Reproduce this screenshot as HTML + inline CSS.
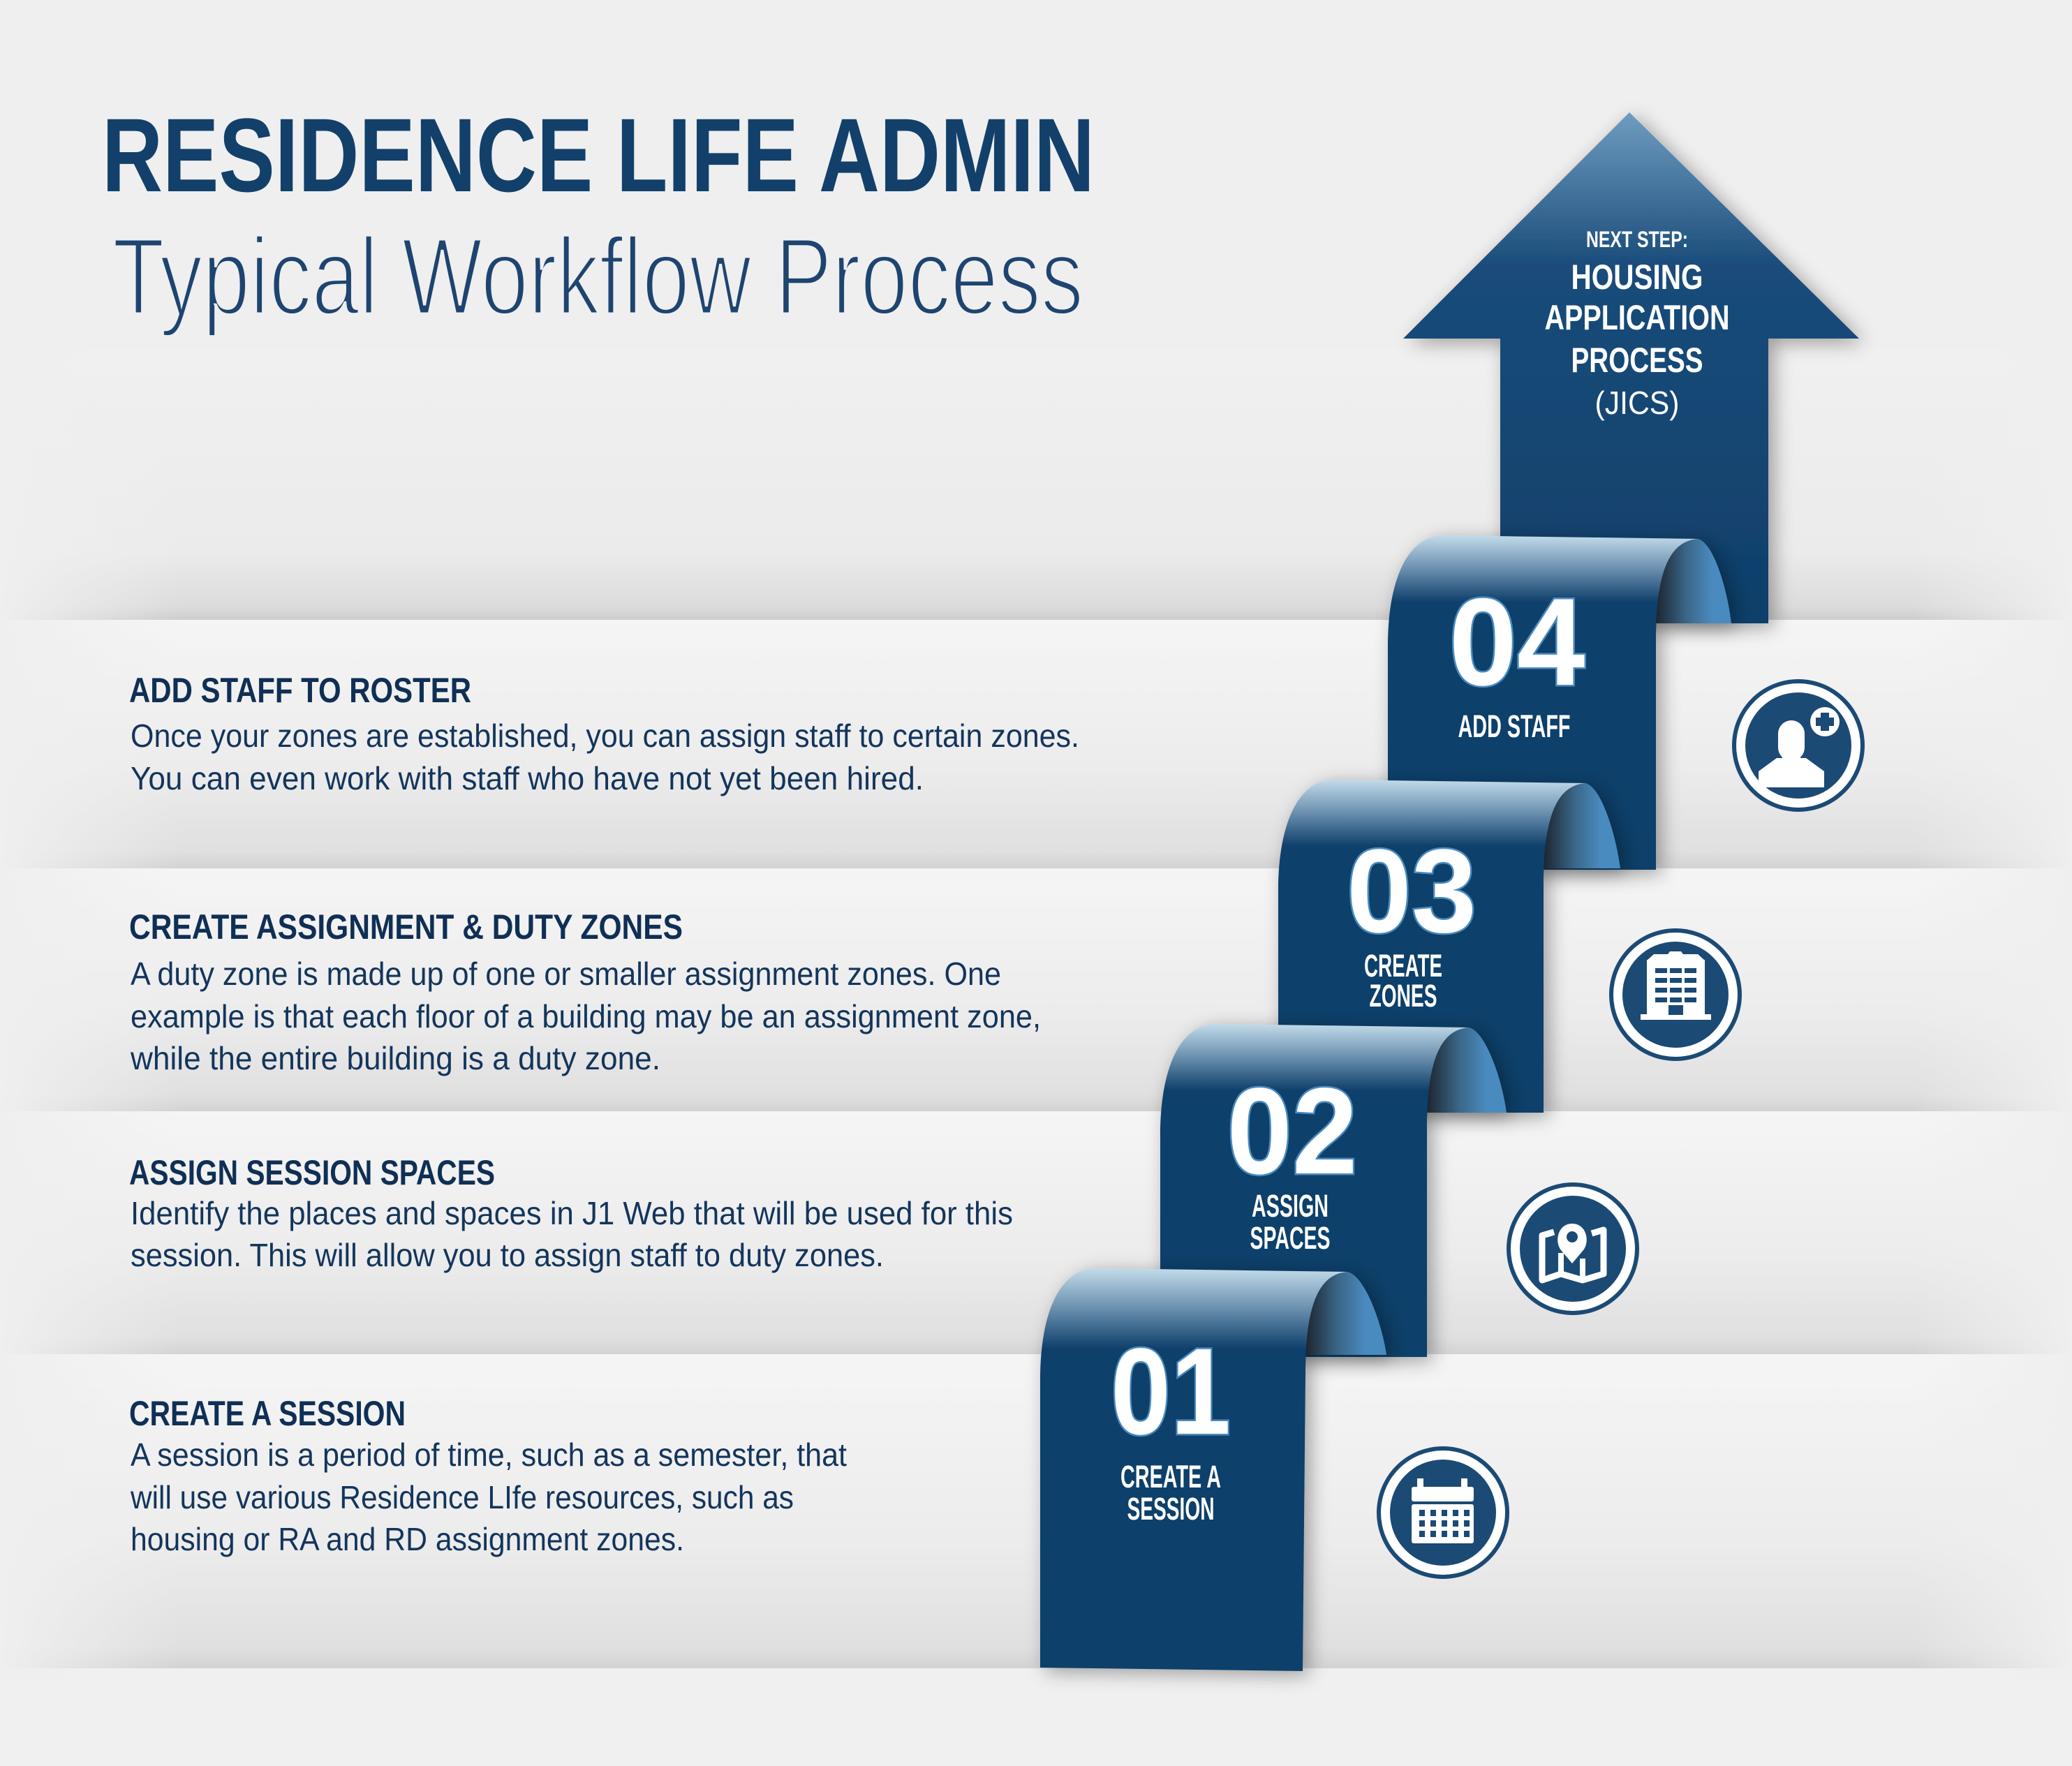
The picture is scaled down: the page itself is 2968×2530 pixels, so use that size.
<!DOCTYPE html>
<html><head><meta charset="utf-8"><style>html,body{margin:0;padding:0;background:#efefef}svg{display:block}</style></head>
<body>
<svg width="2968" height="2530" viewBox="0 0 2968 2530" xmlns="http://www.w3.org/2000/svg" font-family="'Liberation Sans', sans-serif">
<defs>
<linearGradient id="band" x1="0" y1="0" x2="0" y2="1"><stop offset="0" stop-color="#f5f5f5"/><stop offset="0.6" stop-color="#ececec"/><stop offset="0.93" stop-color="#e0e0e0"/><stop offset="1" stop-color="#d3d3d3"/></linearGradient>
<linearGradient id="top" x1="0" y1="0" x2="0" y2="1"><stop offset="0" stop-color="#f0f0f0"/><stop offset="0.75" stop-color="#ebebeb"/><stop offset="0.95" stop-color="#dcdcdc"/><stop offset="1" stop-color="#cdcdcd"/></linearGradient>
<linearGradient id="front" x1="0" y1="0" x2="0" y2="1"><stop offset="0" stop-color="#c2dbea"/><stop offset="0.1" stop-color="#6a8fae"/><stop offset="0.2" stop-color="#0f3f6a"/><stop offset="1" stop-color="#0f3f6a"/></linearGradient>
<linearGradient id="curl" x1="0" y1="0" x2="1" y2="0"><stop offset="0" stop-color="#1d2530"/><stop offset="0.4" stop-color="#3a6687"/><stop offset="0.75" stop-color="#4a8bbf"/><stop offset="1" stop-color="#4a8bbf"/></linearGradient>
<linearGradient id="arr" x1="0" y1="0" x2="0" y2="1"><stop offset="0" stop-color="#6f9cc0"/><stop offset="0.3" stop-color="#1a4c7a"/><stop offset="1" stop-color="#0f3f6a"/></linearGradient>
<linearGradient id="fadeL" x1="0" y1="0" x2="1" y2="0"><stop offset="0" stop-color="#efefef" stop-opacity="1"/><stop offset="1" stop-color="#efefef" stop-opacity="0"/></linearGradient>
<linearGradient id="fadeR" x1="0" y1="0" x2="1" y2="0"><stop offset="0" stop-color="#efefef" stop-opacity="0"/><stop offset="1" stop-color="#efefef" stop-opacity="1"/></linearGradient>
<filter id="sh" x="-20%" y="-20%" width="140%" height="140%"><feGaussianBlur in="SourceAlpha" stdDeviation="14"/><feOffset dx="8" dy="6"/><feComponentTransfer><feFuncA type="linear" slope="0.35"/></feComponentTransfer><feMerge><feMergeNode/><feMergeNode in="SourceGraphic"/></feMerge></filter>
</defs>

<rect x="0" y="0" width="2968" height="2530" fill="#efefef"/>
<rect x="0" y="500" width="2968" height="388" fill="url(#top)"/>
<rect x="0" y="888" width="2968" height="356" fill="url(#band)"/>
<rect x="0" y="1244" width="2968" height="348" fill="url(#band)"/>
<rect x="0" y="1592" width="2968" height="348" fill="url(#band)"/>
<rect x="0" y="1940" width="2968" height="450" fill="url(#band)"/>
<rect x="0" y="2390" width="2968" height="140" fill="#f0f0f0"/>
<rect x="0" y="480" width="260" height="1930" fill="url(#fadeL)"/>
<rect x="2740" y="480" width="228" height="1930" fill="url(#fadeR)"/>

<text x="146" y="274" font-size="150" font-weight="bold" fill="#12406a" textLength="1422" lengthAdjust="spacingAndGlyphs">RESIDENCE LIFE ADMIN</text>
<text x="161" y="450" font-size="157" fill="#1e4470" stroke="#efefef" stroke-width="5" textLength="1391" lengthAdjust="spacingAndGlyphs">Typical Workflow Process</text>

<polygon points="2334,161 2663,485 2533,485 2533,893 2149,893 2149,485 2010,485" fill="url(#arr)" filter="url(#sh)"/>
<g fill="#fff" text-anchor="middle" font-weight="bold">
<text x="2345" y="354" font-size="32" textLength="146" lengthAdjust="spacingAndGlyphs">NEXT STEP:</text>
<text x="2345" y="414" font-size="50" textLength="189" lengthAdjust="spacingAndGlyphs">HOUSING</text>
<text x="2345" y="472" font-size="50" textLength="265" lengthAdjust="spacingAndGlyphs">APPLICATION</text>
<text x="2345" y="533" font-size="50" textLength="189" lengthAdjust="spacingAndGlyphs">PROCESS</text>
<text x="2345" y="593" font-size="46" font-weight="normal" textLength="121" lengthAdjust="spacingAndGlyphs">(JICS)</text>
</g>

<g filter="url(#sh)">
<path d="M2372,893 L2372,917 C2372,807 2397,775 2432,772 C2455,777 2475,847 2480,893 Z" fill="url(#curl)"/>
<path d="M1988,1246 L1988,927 C1988,827 2018,767 2068,767 L2432,772 C2397,775 2372,807 2372,917 L2372,1246 Z" fill="url(#front)"/>
</g>
<g filter="url(#sh)">
<path d="M2211,1244 L2211,1267 C2211,1157 2236,1125 2271,1122 C2294,1127 2315,1197 2321,1244 Z" fill="url(#curl)"/>
<path d="M1831,1594 L1831,1277 C1831,1177 1861,1117 1911,1117 L2271,1122 C2236,1125 2211,1157 2211,1267 L2211,1594 Z" fill="url(#front)"/>
</g>
<g filter="url(#sh)">
<path d="M2044,1594 L2044,1617 C2044,1507 2069,1475 2104,1472 C2128,1477 2152,1547 2158,1594 Z" fill="url(#curl)"/>
<path d="M1662,1944 L1662,1627 C1662,1527 1692,1467 1742,1467 L2104,1472 C2069,1475 2044,1507 2044,1617 L2044,1944 Z" fill="url(#front)"/>
</g>
<g filter="url(#sh)">
<path d="M1870,1941 L1870,1967 C1870,1857 1895,1825 1930,1822 C1955,1827 1980,1897 1986,1941 Z" fill="url(#curl)"/>
<path d="M1490,2389 L1490,1977 C1490,1877 1520,1817 1570,1817 L1930,1822 C1895,1825 1870,1857 1870,1967 L1866,2394 Z" fill="url(#front)"/>
</g>

<g fill="#fff" stroke="#4a8bbf" stroke-width="5" font-weight="bold" text-anchor="middle" paint-order="stroke">
<text x="2173" y="981" font-size="178" textLength="195" lengthAdjust="spacingAndGlyphs">04</text>
<text x="2022" y="1335" font-size="170" textLength="186" lengthAdjust="spacingAndGlyphs">03</text>
<text x="1851" y="1681" font-size="176" textLength="187" lengthAdjust="spacingAndGlyphs">02</text>
<text x="1677" y="2054" font-size="176" textLength="172" lengthAdjust="spacingAndGlyphs">01</text>
</g>
<g fill="#fff" font-weight="bold" text-anchor="middle" font-size="45">
<text x="2169" y="1056" textLength="161" lengthAdjust="spacingAndGlyphs">ADD STAFF</text>
<text x="2010" y="1399" textLength="112" lengthAdjust="spacingAndGlyphs">CREATE</text>
<text x="2010" y="1442" textLength="97" lengthAdjust="spacingAndGlyphs">ZONES</text>
<text x="1848" y="1743" textLength="110" lengthAdjust="spacingAndGlyphs">ASSIGN</text>
<text x="1848" y="1789" textLength="115" lengthAdjust="spacingAndGlyphs">SPACES</text>
<text x="1677" y="2131" textLength="144" lengthAdjust="spacingAndGlyphs">CREATE A</text>
<text x="1677" y="2177" textLength="125" lengthAdjust="spacingAndGlyphs">SESSION</text>
</g>

<g>
<circle cx="2576" cy="1068" r="95" fill="#1b4a75"/><circle cx="2576" cy="1068" r="89" fill="#fff"/><circle cx="2576" cy="1068" r="76" fill="#1b4a75"/>
<rect x="2547" y="1032" width="38" height="58" rx="19" fill="#fff"/>
<rect x="2553" y="1070" width="26" height="30" fill="#fff"/>
<path d="M2519,1128 L2519,1105 L2545,1086 L2587,1086 L2613,1105 L2613,1128 Z" fill="#fff"/>
<circle cx="2614" cy="1034" r="21" fill="#fff"/>
<rect x="2608" y="1021" width="12" height="26" fill="#1b4a75"/><rect x="2601" y="1028" width="26" height="12" fill="#1b4a75"/>
</g>
<g>
<circle cx="2400" cy="1425" r="95" fill="#1b4a75"/><circle cx="2400" cy="1425" r="89" fill="#fff"/><circle cx="2400" cy="1425" r="76" fill="#1b4a75"/>
<path d="M2359,1376 L2369,1367 L2389,1367 L2392,1363 L2408,1363 L2411,1367 L2432,1367 L2442,1376 Z" fill="#fff"/>
<rect x="2359" y="1375" width="83" height="84" fill="#fff"/>
<rect x="2350" y="1453" width="101" height="8" fill="#fff"/>
<g fill="#1b4a75">
<rect x="2371" y="1387" width="17" height="7"/><rect x="2392" y="1387" width="17" height="7"/><rect x="2413" y="1387" width="17" height="7"/>
<rect x="2371" y="1401" width="17" height="7"/><rect x="2392" y="1401" width="17" height="7"/><rect x="2413" y="1401" width="17" height="7"/>
<rect x="2371" y="1415" width="17" height="7"/><rect x="2392" y="1415" width="17" height="7"/><rect x="2413" y="1415" width="17" height="7"/>
<rect x="2371" y="1429" width="17" height="7"/><rect x="2392" y="1429" width="17" height="7"/><rect x="2413" y="1429" width="17" height="7"/>
<rect x="2390" y="1440" width="21" height="14"/>
</g>
</g>
<g>
<circle cx="2253" cy="1789" r="95" fill="#1b4a75"/><circle cx="2253" cy="1789" r="89" fill="#fff"/><circle cx="2253" cy="1789" r="76" fill="#1b4a75"/>
<path d="M2226,1765 L2209,1770 L2209,1834 L2236,1825 L2267,1834 L2297,1825 L2297,1762 L2280,1767" fill="none" stroke="#fff" stroke-width="9" stroke-linejoin="round"/>
<path d="M2236,1795 L2236,1825 M2267,1803 L2267,1834" stroke="#fff" stroke-width="8"/>
<path d="M2252,1810 L2236,1791 C2226,1778 2232,1753 2252,1753 C2272,1753 2278,1778 2268,1791 Z" fill="#fff"/>
<circle cx="2252" cy="1772" r="8" fill="#1b4a75"/>
</g>
<g>
<circle cx="2067" cy="2167" r="95" fill="#1b4a75"/><circle cx="2067" cy="2167" r="89" fill="#fff"/><circle cx="2067" cy="2167" r="76" fill="#1b4a75"/>
<rect x="2022" y="2130" width="89" height="21" rx="3" fill="#fff"/>
<rect x="2030" y="2118" width="9" height="14" fill="#fff"/><rect x="2093" y="2118" width="9" height="14" fill="#fff"/>
<rect x="2022" y="2155" width="89" height="56" rx="3" fill="#fff"/>
<g fill="#1b4a75">
<rect x="2033" y="2163" width="8" height="9"/><rect x="2049" y="2163" width="8" height="9"/><rect x="2065" y="2163" width="8" height="9"/><rect x="2081" y="2163" width="8" height="9"/><rect x="2097" y="2163" width="8" height="9"/>
<rect x="2033" y="2178" width="8" height="9"/><rect x="2049" y="2178" width="8" height="9"/><rect x="2065" y="2178" width="8" height="9"/><rect x="2081" y="2178" width="8" height="9"/><rect x="2097" y="2178" width="8" height="9"/>
<rect x="2033" y="2193" width="8" height="9"/><rect x="2049" y="2193" width="8" height="9"/><rect x="2065" y="2193" width="8" height="9"/><rect x="2081" y="2193" width="8" height="9"/><rect x="2097" y="2193" width="8" height="9"/>
</g>
</g>

<g fill="#0f2f55" font-weight="bold" font-size="50">
<text x="185" y="1006" textLength="490" lengthAdjust="spacingAndGlyphs">ADD STAFF TO ROSTER</text>
<text x="185" y="1345" textLength="793" lengthAdjust="spacingAndGlyphs">CREATE ASSIGNMENT &amp; DUTY ZONES</text>
<text x="185" y="1697" textLength="524" lengthAdjust="spacingAndGlyphs">ASSIGN SESSION SPACES</text>
<text x="185" y="2042" textLength="396" lengthAdjust="spacingAndGlyphs">CREATE A SESSION</text>
</g>
<g fill="#13355c" font-size="46">
<text x="187" y="1070" textLength="1359" lengthAdjust="spacingAndGlyphs">Once your zones are established, you can assign staff to certain zones.</text>
<text x="187" y="1131" textLength="1136" lengthAdjust="spacingAndGlyphs">You can even work with staff who have not yet been hired.</text>
<text x="187" y="1411" textLength="1247" lengthAdjust="spacingAndGlyphs">A duty zone is made up of one or smaller assignment zones. One</text>
<text x="187" y="1472" textLength="1304" lengthAdjust="spacingAndGlyphs">example is that each floor of a building may be an assignment zone,</text>
<text x="187" y="1532" textLength="759" lengthAdjust="spacingAndGlyphs">while the entire building is a duty zone.</text>
<text x="187" y="1754" textLength="1264" lengthAdjust="spacingAndGlyphs">Identify the places and spaces in J1 Web that will be used for this</text>
<text x="187" y="1814" textLength="1079" lengthAdjust="spacingAndGlyphs">session. This will allow you to assign staff to duty zones.</text>
<text x="187" y="2100" textLength="1026" lengthAdjust="spacingAndGlyphs">A session is a period of time, such as a semester, that</text>
<text x="187" y="2161" textLength="950" lengthAdjust="spacingAndGlyphs">will use various Residence LIfe resources, such as</text>
<text x="187" y="2221" textLength="793" lengthAdjust="spacingAndGlyphs">housing or RA and RD assignment zones.</text>
</g>
</svg>
</body></html>
